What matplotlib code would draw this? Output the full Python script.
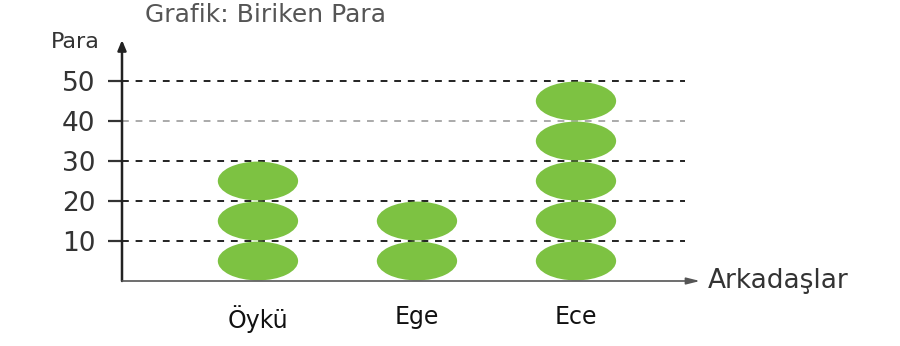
import matplotlib
matplotlib.use("Agg")
import matplotlib.pyplot as plt
from matplotlib.patches import Ellipse

friends = ["Öykü", "Ege", "Ece"]
money = [30, 20, 50]
unit = 10
yticks = [10, 20, 30, 40, 50]
title = "Grafik: Biriken Para"
ylabel = "Para"
xlabel = "Arkadaşlar"

W, H = 900, 346
fig = plt.figure(figsize=(W / 100, H / 100), dpi=100)

# axes box in pixels
x0, x1 = 122, 700
y0, y1 = 281, 40
ax = fig.add_axes([x0 / W, (H - y0) / H, (x1 - x0) / W, (y0 - y1) / H])
ax.set_xlim(-0.855, 2.78)
ax.set_ylim(0, (y0 - y1) / 4.0)
for s in ax.spines.values():
    s.set_visible(False)

green = "#7dc242"
for i, v in enumerate(money):
    for k in range(v // unit):
        ax.add_patch(Ellipse((i, unit * k + unit / 2), 0.505, 9.7,
                             facecolor=green, edgecolor="none", zorder=3))

grid_end = 2.686
for t in yticks:
    col = "#aaaaaa" if t == 40 else "#222222"
    ax.plot([-0.855, grid_end], [t, t], ls=(0, (3.5, 3.5)), color=col,
            lw=1.4, zorder=1)

ax.set_yticks(yticks)
ax.set_yticklabels([str(t) for t in yticks], fontsize=19, color="#333333",
                   family="DejaVu Sans")
ax.tick_params(axis="y", length=10, width=1.6, color="#333333", pad=9)

ax.set_xticks(range(len(friends)))
ax.set_xticklabels(friends, fontsize=17, color="#111111", family="DejaVu Sans")
ax.tick_params(axis="x", length=0, pad=17)

# axes with arrows
ax.annotate("", xy=(0, 1.0), xytext=(0, 0), xycoords="axes fraction",
            arrowprops=dict(arrowstyle="-|>,head_length=0.6,head_width=0.25",
                            color="#222222", lw=1.8, shrinkA=0, shrinkB=0))
ax.annotate("", xy=(1.0, 0), xytext=(0, 0), xycoords="axes fraction",
            arrowprops=dict(arrowstyle="-|>,head_length=0.8,head_width=0.2",
                            color="#555555", lw=1.2, shrinkA=0, shrinkB=0))

fig.text(145 / W, 1 - 15 / H, title, fontsize=18, color="#555555",
         family="DejaVu Sans", va="center", ha="left")
fig.text(100 / W, 1 - 42 / H, ylabel, fontsize=16, color="#333333",
         family="DejaVu Sans", va="center", ha="right")
fig.text(708 / W, 1 - 281 / H, xlabel, fontsize=19, color="#333333",
         family="DejaVu Sans", va="center", ha="left")

fig.savefig("out.png", dpi=100)
